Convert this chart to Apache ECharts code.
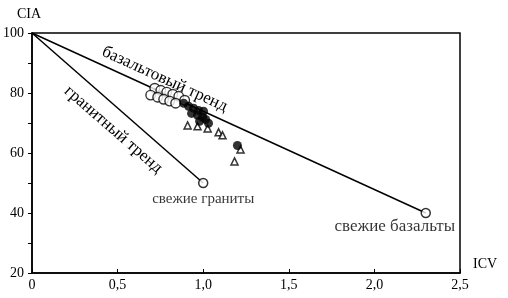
<!DOCTYPE html>
<html>
<head>
<meta charset="utf-8">
<script src="https://cdn.jsdelivr.net/npm/echarts@6/dist/echarts.min.js"></script>
<style>
  html, body { margin: 0; padding: 0; background: #fff; }
  #chart { width: 508px; height: 298px; }
</style>
</head>
<body>
<div id="chart"></div>
<script>
// тренды выветривания: от исходной породы к CIA = 100
const basaltTrend = [[0, 100], [2.3, 40]];
const graniteTrend = [[0, 100], [1.0, 50]];
const freshGranite = [[1.0, 50]];
const freshBasalt = [[2.3, 40]];

// образцы (ICV, CIA)
const openCircles = [
  [0.717, 81.6], [0.752, 80.9], [0.787, 80.3], [0.822, 79.6], [0.857, 78.9],
  [0.693, 79.3], [0.734, 78.6], [0.769, 77.9], [0.804, 77.3], [0.839, 76.6],
  [0.892, 77.6]
];
const filledCircles = [
  [0.886, 76.6], [0.915, 75.6], [0.944, 74.9], [0.973, 74.2], [1.002, 73.9],
  [0.932, 73.2], [0.967, 72.6], [0.997, 71.9], [0.979, 70.6], [1.014, 71.2],
  [1.031, 69.9], [1.2, 62.5]
];
const triangles = [
  [0.909, 69.2], [0.967, 68.9], [1.026, 68.2], [1.09, 66.9], [1.113, 65.9],
  [1.218, 61.2], [1.183, 57.2]
];

const font = '"Liberation Serif", "DejaVu Serif", serif';
const black = "#000";

const chart = echarts.init(document.getElementById("chart"), null, { renderer: "canvas" });

chart.setOption({
  backgroundColor: "#fff",
  animation: false,
  textStyle: { fontFamily: font, color: black, fontSize: 14 },
  grid: {
    left: 30, right: 48, top: 33, bottom: 25,
    show: true, borderColor: black, borderWidth: 1.5, backgroundColor: "transparent"
  },
  xAxis: {
    type: "value",
    min: 0, max: 2.5, interval: 0.5,
    name: "ICV",
    nameLocation: "end",
    nameGap: 13,
    nameTextStyle: { fontFamily: font, fontSize: 14, color: black, verticalAlign: "bottom", padding: [0, 0, 2, 0] },
    axisLine: { lineStyle: { color: black, width: 1.5 } },
    axisTick: { inside: true, length: 4, lineStyle: { color: black } },
    axisLabel: {
      margin: 5, fontFamily: font, fontSize: 14, color: black,
      formatter: v => (v === 0 ? "0" : v.toFixed(1).replace(".", ","))
    },
    splitLine: { show: false }
  },
  yAxis: {
    type: "value",
    min: 20, max: 100, interval: 10,
    name: "CIA",
    nameLocation: "end",
    nameGap: 12,
    nameTextStyle: { fontFamily: font, fontSize: 14, color: black, padding: [0, 6, 0, 0] },
    axisLine: { lineStyle: { color: black, width: 1.5 } },
    axisTick: { length: 4, lineStyle: { color: black } },
    axisLabel: {
      margin: 8, fontFamily: font, fontSize: 14, color: black,
      formatter: v => (v % 20 === 0 ? String(v) : "")
    },
    splitLine: { show: false }
  },
  series: [
    {
      name: "базальтовый тренд",
      type: "line",
      data: basaltTrend,
      symbol: "none",
      lineStyle: { color: black, width: 1.5 },
      z: 1,
      markPoint: {
        symbol: "circle", symbolSize: 1,
        itemStyle: { color: "transparent" },
        label: {
          show: true, position: "inside", rotate: -24.5,
          formatter: "базальтовый тренд",
          fontFamily: font, fontSize: 17, color: black
        },
        data: [{ coord: [0.775, 84.6] }]
      }
    },
    {
      name: "гранитный тренд",
      type: "line",
      data: graniteTrend,
      symbol: "none",
      lineStyle: { color: black, width: 1.5 },
      z: 1,
      markPoint: {
        symbol: "circle", symbolSize: 1,
        itemStyle: { color: "transparent" },
        label: {
          show: true, position: "inside", rotate: -41,
          formatter: "гранитный тренд",
          fontFamily: font, fontSize: 17, color: black
        },
        data: [{ coord: [0.475, 67.8] }]
      }
    },
    {
      name: "свежие граниты",
      type: "scatter",
      data: freshGranite,
      symbol: "circle", symbolSize: 9,
      itemStyle: { color: "#fff", borderColor: black, borderWidth: 1.5 },
      label: {
        show: true, position: "bottom", distance: 3,
        formatter: "свежие граниты",
        fontFamily: font, fontSize: 15, color: black
      },
      z: 3
    },
    {
      name: "свежие базальты",
      type: "scatter",
      data: freshBasalt,
      symbol: "circle", symbolSize: 9,
      itemStyle: { color: "#fff", borderColor: black, borderWidth: 1.5 },
      label: {
        show: true, position: "bottom", distance: 0, offset: [-31, 0],
        formatter: "свежие базальты",
        fontFamily: font, fontSize: 17, color: black
      },
      z: 3
    },
    {
      type: "scatter",
      data: openCircles,
      symbol: "circle", symbolSize: 9.5,
      itemStyle: { color: "#fff", borderColor: black, borderWidth: 1.4 },
      z: 3
    },
    {
      type: "scatter",
      data: triangles,
      symbol: "triangle", symbolSize: 7,
      itemStyle: { color: "#fff", borderColor: black, borderWidth: 1.5 },
      z: 4
    },
    {
      type: "scatter",
      data: filledCircles,
      symbol: "circle", symbolSize: 9,
      itemStyle: { color: black },
      z: 5
    }
  ]
});
</script>
</body>
</html>
